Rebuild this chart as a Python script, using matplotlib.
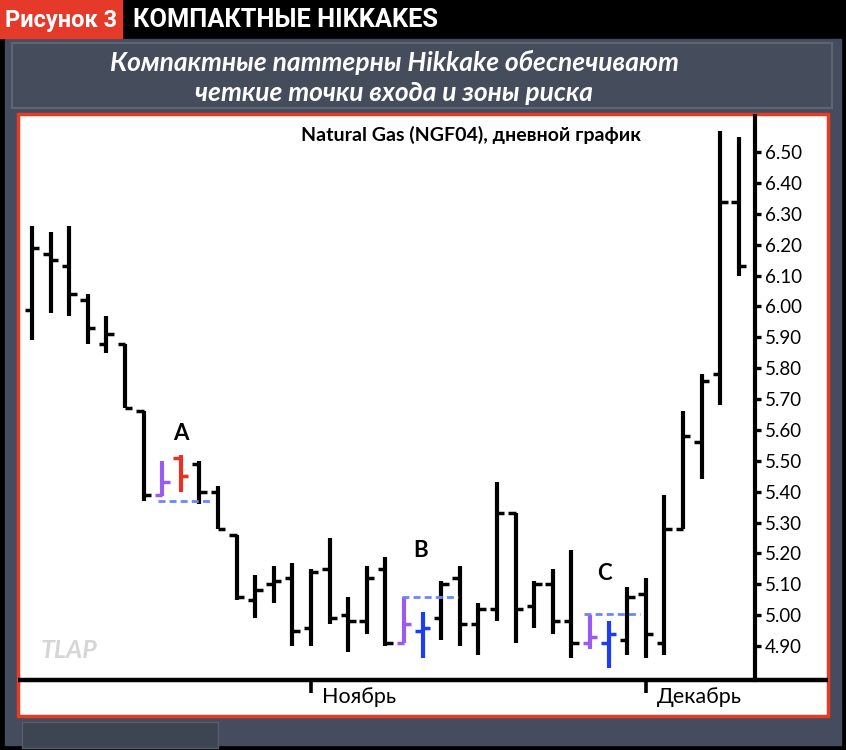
import matplotlib
matplotlib.use('Agg')
import matplotlib.pyplot as plt
import matplotlib.patches as mpatches

plt.rcParams['font.family'] = ['Lato', 'DejaVu Sans']

# daily OHLC, Natural Gas (NGF04)
opens  = [5.99, 6.17, 6.13, 6.02, 5.88, 5.88, 5.66, 5.39, 5.51, 5.49,
          5.40, 5.26, 5.05, 5.10, 5.12, 4.96, 5.15, 5.00, 4.98, 5.15,
          4.91, 4.95, 4.99, 5.12, 4.97, 5.02, 5.33, 5.03, 5.10, 4.98,
          4.91, 4.91, 4.92, 5.07, 4.91, 5.28, 5.56, 5.78, 6.34]
highs  = [6.26, 6.24, 6.26, 6.04, 5.97, 5.88, 5.66, 5.50, 5.52, 5.50,
          5.42, 5.26, 5.13, 5.16, 5.17, 5.15, 5.25, 5.06, 5.16, 5.19,
          5.06, 5.01, 5.11, 5.16, 5.04, 5.43, 5.33, 5.11, 5.15, 5.21,
          5.00, 4.98, 5.09, 5.12, 5.39, 5.66, 5.78, 6.57, 6.55]
lows   = [5.89, 5.98, 5.97, 5.88, 5.85, 5.67, 5.37, 5.385, 5.40, 5.36,
          5.28, 5.05, 4.99, 5.04, 4.90, 4.90, 4.97, 4.88, 4.94, 4.90,
          4.91, 4.86, 4.92, 4.90, 4.87, 4.98, 4.91, 4.96, 4.94, 4.86,
          4.89, 4.83, 4.87, 4.86, 4.87, 5.28, 5.44, 5.68, 6.10]
closes = [6.19, 6.15, 6.04, 5.93, 5.91, 5.67, 5.39, 5.43, 5.45, 5.40,
          5.28, 5.06, 5.08, 5.11, 4.95, 5.14, 4.99, 4.98, 5.12, 4.91,
          4.97, 4.96, 5.10, 4.97, 5.02, 5.33, 5.02, 5.10, 4.98, 4.91,
          4.93, 4.94, 5.06, 4.94, 5.28, 5.58, 5.76, 6.34, 6.13]

# highlighted bars (index -> colour)
special = {7: '#9a5cf0', 8: '#e8321f', 20: '#9a5cf0', 21: '#1e3cf5',
           30: '#9a5cf0', 31: '#1e3cf5'}
# hikkake reference levels: (start index, end index, price)
levels = [(6.8, 9.7, 5.37), (19.9, 22.9, 5.06), (29.7, 32.7, 5.005)]
letters = [('A', 8.0, 5.59), ('B', 20.9, 5.21), ('C', 30.8, 5.135)]

price_ticks = [4.9 + 0.1 * k for k in range(17)]
months = ['Ноябрь', 'Декабрь']
month_idx = [15, 33]

W, H = 846, 750
slate = '#444c5d'
fig = plt.figure(figsize=(W / 100, H / 100), dpi=100, facecolor='black')

# background / frame drawn in pixel coordinates
bg = fig.add_axes([0, 0, 1, 1])
bg.set_xlim(0, W)
bg.set_ylim(H, 0)
bg.axis('off')
bg.add_patch(mpatches.Rectangle((5, 39), W - 10, H - 44, color=slate))
bg.add_patch(mpatches.Rectangle((0, 0), 122, 38, color='#e5392a'))
bg.add_patch(mpatches.Rectangle((12, 43), 820, 65, facecolor='#454d5d',
                                edgecolor='#5e6676', lw=1.5))
bg.add_patch(mpatches.Rectangle((18, 114), 810, 602, facecolor='white',
                                edgecolor='#ea3a24', lw=2.5))
bg.add_patch(mpatches.Rectangle((22, 722), 196, 26, facecolor='#3d4452',
                                edgecolor='#565d6b', lw=1))
bg.plot([18, 828], [680, 680], color='black', lw=3.2, solid_capstyle='butt')

bg.text(61, 20, 'Рисунок 3', color='white', fontsize=17, fontweight='bold',
        family='Roboto', ha='center', va='center')
bg.text(133, 20, 'КОМПАКТНЫЕ HIKKAKES', color='white', fontsize=18.3,
        fontweight='bold', family='Roboto', ha='left', va='center')
bg.text(394, 62, 'Компактные паттерны Hikkake обеспечивают', color='white',
        fontsize=19, fontweight='bold', style='italic', ha='center', va='center')
bg.text(394, 93, 'четкие точки входа и зоны риска', color='white',
        fontsize=19, fontweight='bold', style='italic', ha='center', va='center')

# chart axes
x0, x1, y0, y1 = 20, 755, 116, 680
ax = fig.add_axes([x0 / W, 1 - y1 / H, (x1 - x0) / W, (y1 - y0) / H])
ax.set_facecolor('none')
ax.set_xlim(-0.645, 38.87)
ax.set_ylim(4.79, 6.617)
for s in ['top', 'left', 'bottom']:
    ax.spines[s].set_visible(False)
ax.spines['right'].set_linewidth(3)

ax.yaxis.tick_right()
ax.set_yticks(price_ticks)
ax.set_yticklabels([f'{p:.2f}' for p in price_ticks], fontsize=13.5)
ax.tick_params(axis='y', length=4.5, width=2.4, pad=2.5)
ax.set_xticks(month_idx)
ax.set_xticklabels([])
ax.tick_params(axis='x', length=9, width=2.6, direction='out')

tl = 0.4
for i in range(len(opens)):
    c = special.get(i, 'black')
    ax.vlines(i, lows[i], highs[i], color=c, lw=3)
    ax.hlines(opens[i], i - tl, i, color=c, lw=2.5)
    ax.hlines(closes[i], i, i + tl, color=c, lw=2.5)

for a, b, p in levels:
    ax.hlines(p, a, b, color='#6a86ff', lw=2, linestyles=(0, (2.5, 1.5)))

for t, xi, p in letters:
    ax.text(xi, p, t, fontsize=16, fontweight='bold', ha='center', va='center')

ax.text(2.0, 4.887, 'TLAP', fontsize=18, fontweight='bold', style='italic',
        color='#d6d6d6', ha='center', va='center')
ax.text(0.614, 0.966, 'Natural Gas (NGF04), дневной график', fontsize=14,
        fontweight='bold', transform=ax.transAxes, ha='center', va='center')

for m, xi in zip(months, month_idx):
    ax.text(xi + 0.6, -0.031, m, fontsize=15.5, ha='left', va='center',
            transform=ax.get_xaxis_transform())

fig.savefig('out.png', dpi=100, facecolor='black')
